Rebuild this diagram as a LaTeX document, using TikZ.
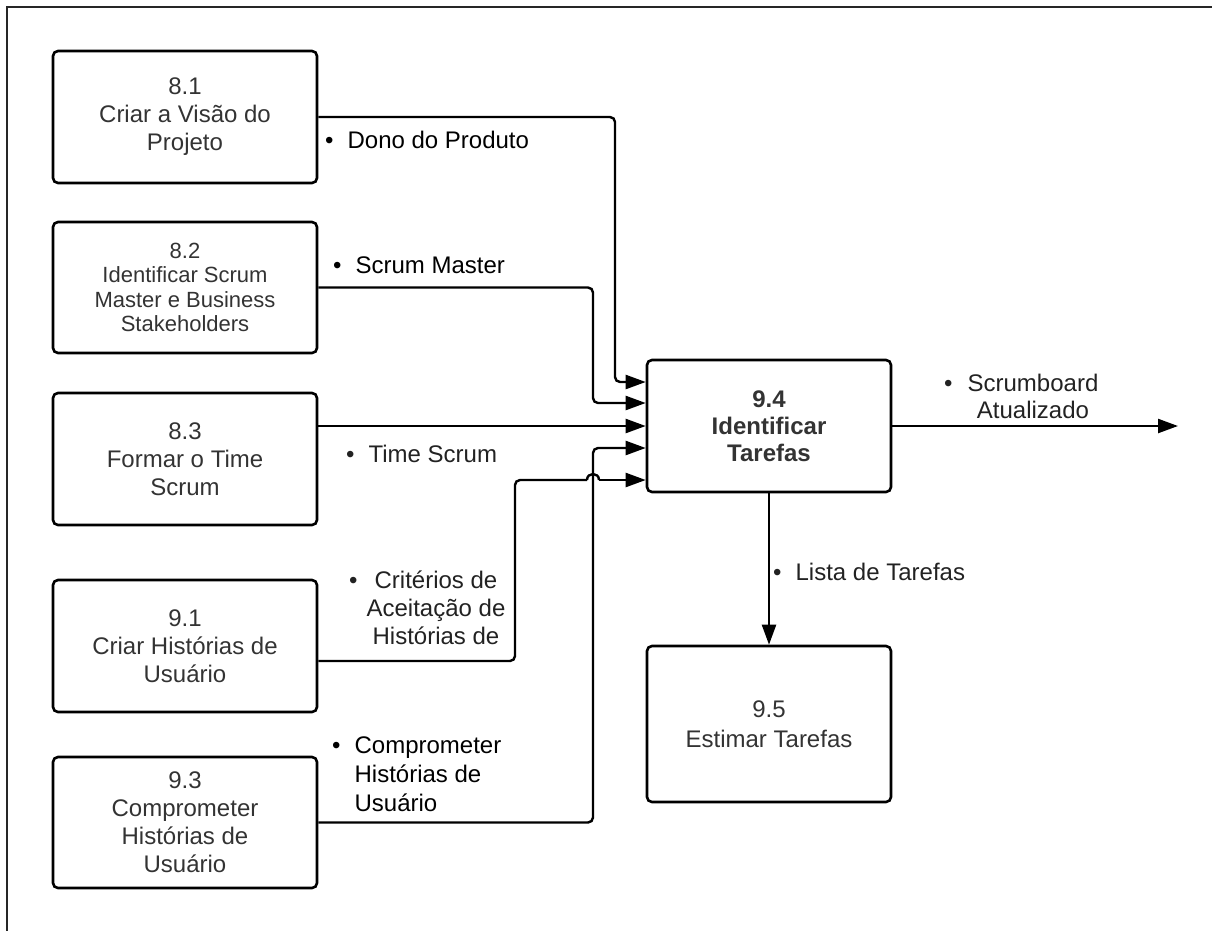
\documentclass[tikz,border=0pt]{standalone}
\usepackage{fontspec}
\setmainfont{Liberation Sans}
\usetikzlibrary{arrows.meta}
\definecolor{boxtext}{HTML}{333333}
\definecolor{lbltext}{HTML}{222222}
\newcommand\bul{\textbullet\hspace{14pt}}

\begin{document}
\begin{tikzpicture}[x=1pt,y=-1pt,
  proc/.style={draw=black, line width=2.6pt, rounded corners=5pt,
    minimum width=264pt, minimum height=132pt, inner sep=0pt,
    align=center, text=boxtext, font=\fontsize{24}{28}\selectfont},
  flow/.style={line width=2.4pt, rounded corners=5pt,
    -{Triangle[length=20pt,width=14pt]}},
  wire/.style={line width=2.4pt, rounded corners=5pt},
  lbl/.style={inner sep=0pt, text=lbltext, font=\fontsize{24}{28}\selectfont},
]
\useasboundingbox (0,0) rectangle (1212,930);

% outer frame, running past the right and bottom edges
\begin{scope}
  \clip (0,0) rectangle (1212,930);
  \draw[line width=2pt, draw=black!85] (7,7) rectangle (1240,960);
\end{scope}

% process boxes
\node[proc] (b81) at (185,117) {8.1\\Criar a Visão do\\Projeto};
\node[proc, minimum height=131pt, font=\fontsize{22}{24.5}\selectfont]
  (b82) at (185,287.5) {8.2\\Identificar Scrum\\Master e Business\\Stakeholders};
\node[proc] (b83) at (185,459) {8.3\\Formar o Time\\Scrum};
\node[proc] (b91) at (185,646) {9.1\\Criar Histórias de\\Usuário};
\node[proc, minimum height=131pt] (b93) at (185,822.5)
  {9.3\\Comprometer\\Histórias de\\Usuário};
\node[proc, minimum width=244pt, font=\bfseries\fontsize{24}{27}\selectfont]
  (b94) at (769,426) {9.4\\Identificar\\Tarefas};
\node[proc, minimum width=244pt, minimum height=156pt]
  (b95) at (769,724) {9.5\\[2pt]Estimar Tarefas};

% inputs to 9.4
\draw[flow] (b81.east) -- (615,117) -- (615,382) -- (b94.west |- 0,382);
\draw[flow] (b82.east) -- (593,287.5) -- (593,403) -- (b94.west |- 0,403);
\draw[flow] (b83.east |- b94.west) -- (b94.west);
\draw[flow] (b93.east) -- (593,822.5) -- (593,448) -- (b94.west |- 0,448);
\draw[wire] (b91.east |- 0,661) -- (515,661) -- (515,480) -- (587,480);
\draw[line width=2.4pt] (587,480) .. controls (587,472) and (599,472) .. (599,480);
\draw[flow] (599,480) -- (b94.west |- 0,480);

% outputs of 9.4
\coordinate (outEnd) at (1178,426);
\draw[flow] (b94.east) -- (outEnd);
\draw[flow, rounded corners=0pt] (b94.south) -- (b95.north);

% flow labels (multi-line ones are placed by the baseline of their last line)
\node[lbl, anchor=base west, text=black] (lDono) at (325,148) {\bul Dono do Produto};
\node[lbl, anchor=base west, text=black] (lSM) at (333,273) {\bul Scrum Master};
\node[lbl, anchor=base west] (lTS) at (346,462) {\bul Time Scrum};
\node[lbl, anchor=base west] (lCritB) at (349,588) {\textbullet};
\node[lbl, anchor=base, align=center] (lCrit) at (436,644)
  {Critérios de\\Aceitação de\\Histórias de};
\node[lbl, anchor=base west, align=left, text=black,
  font=\fontsize{24}{29}\selectfont] (lComp) at (332,811)
  {\bul Comprometer\\\hspace{22.4pt}Histórias de\\\hspace{22.4pt}Usuário};
\node[lbl, anchor=base west] (lLista) at (773,580) {\bul Lista de Tarefas};
\node[lbl, anchor=base west] (lSbB) at (944,391) {\textbullet};
\node[lbl, anchor=base, align=center, font=\fontsize{24}{27}\selectfont]
  (lSb) at (1033,418) {Scrumboard\\Atualizado};
\end{tikzpicture}
\end{document}
